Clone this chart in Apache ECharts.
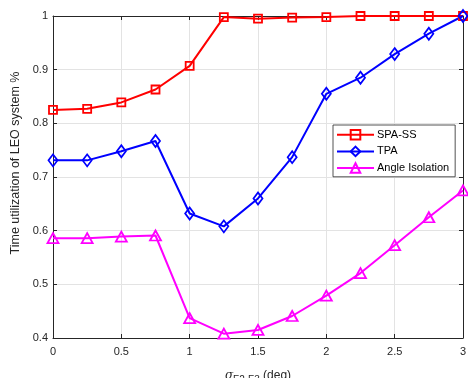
<!DOCTYPE html>
<html>
<head>
<meta charset="utf-8">
<script src="https://cdn.jsdelivr.net/npm/echarts@6/dist/echarts.min.js"></script>
<style>html,body{margin:0;padding:0;background:#fff}#c{width:468px;height:378px}</style>
</head>
<body>
<div id="c"></div>
<script>
var xValues = [0, 0.25, 0.5, 0.75, 1, 1.25, 1.5, 1.75, 2, 2.25, 2.5, 2.75, 3];
var spaSS = [0.825, 0.827, 0.839, 0.863, 0.907, 0.998, 0.995, 0.997, 0.998, 1.0, 1.0, 1.0, 1.0];
var tpa = [0.731, 0.731, 0.748, 0.767, 0.632, 0.608, 0.660, 0.737, 0.855, 0.885, 0.929, 0.967, 1.0];
var angleIso = [0.586, 0.586, 0.589, 0.591, 0.437, 0.408, 0.415, 0.441, 0.479, 0.521, 0.573, 0.625, 0.675];
var seriesNames = ['SPA-SS', 'TPA', 'Angle Isolation'];
var xTicks = [0, 0.5, 1, 1.5, 2, 2.5, 3];
var yTicks = [0.4, 0.5, 0.6, 0.7, 0.8, 0.9, 1];

function pairs(ys) { return xValues.map(function (x, i) { return [x, ys[i]]; }); }

var axisCol = '#262626';
var font = 'Liberation Sans, Arial, Helvetica, sans-serif';
var chart = echarts.init(document.getElementById('c'), null, {renderer: 'canvas'});

function mkSeries(name, data, color, symbol, size) {
  return {
    name: name, type: 'line', data: pairs(data), xAxisIndex: 0, yAxisIndex: 0,
    symbol: symbol, symbolSize: size, showAllSymbol: true,
    lineStyle: {color: color, width: 2},
    itemStyle: {color: 'rgba(255,255,255,0)', borderColor: color, borderWidth: 1.8},
    emphasis: {disabled: true}, animation: false, z: 3
  };
}

var option = {
  animation: false,
  backgroundColor: '#fff',
  textStyle: {fontFamily: font},
  grid: {left: 53, right: 5, top: 16, bottom: 40, containLabel: false, outerBoundsMode: 'none'},
  legend: {
    left: 333, top: 125, orient: 'vertical',
    data: seriesNames,
    borderColor: axisCol, borderWidth: 0.8, backgroundColor: '#fff',
    padding: [4, 6, 3, 3], itemGap: 5, itemWidth: 37, itemHeight: 12,
    textStyle: {fontSize: 11, color: '#000', fontFamily: font, padding: [0, 0, 0, -2]},
    selectedMode: false
  },
  xAxis: [{
    type: 'value', min: 0, max: 3, interval: 0.5, position: 'bottom',
    axisLine: {show: true, onZero: false, lineStyle: {color: axisCol, width: 1}},
    axisTick: {show: true, inside: true, length: 4, lineStyle: {color: axisCol}},
    axisLabel: {color: axisCol, fontSize: 11, margin: 8, fontFamily: font,
      formatter: function (v) { return xTicks.indexOf(v) >= 0 ? String(v) : ''; }},
    splitLine: {show: true, lineStyle: {color: '#e3e3e3', width: 1}},
    name: '{s|σ}{sub|F2-F3}{n| (deg)}', nameLocation: 'middle', nameGap: 29,
    nameTextStyle: {rich: {
      s: {fontSize: 12, fontStyle: 'italic', color: '#262626', fontFamily: 'DejaVu Serif, serif'},
      sub: {fontSize: 10, color: '#262626', verticalAlign: 'bottom', padding: [8, 0, 0, 0], fontFamily: font},
      n: {fontSize: 12, color: '#262626', fontFamily: font}
    }}
  }, {
    type: 'value', min: 0, max: 3, interval: 0.5, position: 'top',
    axisLine: {show: true, onZero: false, lineStyle: {color: axisCol, width: 1}},
    axisTick: {show: true, inside: true, length: 4, lineStyle: {color: axisCol}},
    axisLabel: {show: false}, splitLine: {show: false}
  }],
  yAxis: [{
    type: 'value', min: 0.4, max: 1, interval: 0.1, position: 'left',
    axisLine: {show: true, onZero: false, lineStyle: {color: axisCol, width: 1}},
    axisTick: {show: true, inside: true, length: 4, lineStyle: {color: axisCol}},
    axisLabel: {color: axisCol, fontSize: 11, margin: 5, fontFamily: font,
      formatter: function (v) { var r = Math.round(v * 10) / 10; return yTicks.indexOf(r) >= 0 ? String(r) : ''; }},
    splitLine: {show: true, lineStyle: {color: '#e3e3e3', width: 1}},
    name: 'Time utilization of LEO system %', nameLocation: 'middle', nameGap: 29,
    nameTextStyle: {fontSize: 12.5, color: '#262626', fontFamily: font, padding: [0, 0, 0, 28]}
  }, {
    type: 'value', min: 0.4, max: 1, interval: 0.1, position: 'right',
    axisLine: {show: true, onZero: false, lineStyle: {color: axisCol, width: 1}},
    axisTick: {show: true, inside: true, length: 4, lineStyle: {color: axisCol}},
    axisLabel: {show: false}, splitLine: {show: false}
  }],
  series: [
    mkSeries(seriesNames[0], spaSS, '#ff0000', 'rect', 8),
    mkSeries(seriesNames[1], tpa, '#0000ff', 'diamond', [9, 12]),
    mkSeries(seriesNames[2], angleIso, '#ff00ff', 'triangle', [11, 10])
  ]
};
chart.setOption(option);
</script>
</body>
</html>
